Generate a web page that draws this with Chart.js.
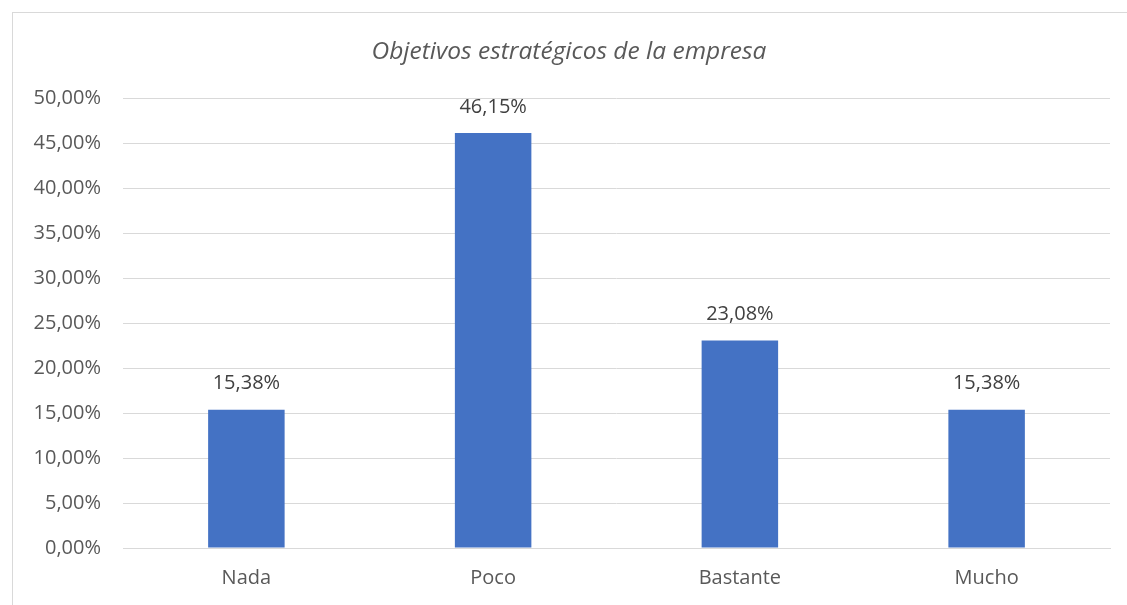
<!DOCTYPE html>
<html lang="es">
<head>
<meta charset="utf-8">
<title>Objetivos estratégicos de la empresa</title>
<script src="https://cdn.jsdelivr.net/npm/chart.js@4"></script>
<style>
    html, body { margin: 0; padding: 0; background: #fff; overflow: hidden; }
    #wrap { position: relative; width: 1127px; height: 605px; }
    #frame {
        position: absolute; left: 12px; top: 12px;
        width: 1130px; height: 600px;
        border: 1px solid #d9d9d9;
        pointer-events: none;
    }
    canvas { position: absolute; left: 0; top: 0; }
</style>
</head>
<body>
<div id="wrap">
    <canvas id="objChart" width="1127" height="605"></canvas>
    <div id="frame"></div>
</div>
<script>
// Chart data
const categories = ['Nada', 'Poco', 'Bastante', 'Mucho'];
const percentages = [15.38, 46.15, 23.08, 15.38];
const yTicks = [0, 5, 10, 15, 20, 25, 30, 35, 40, 45, 50];

const FONT = '"Open Sans", "Noto Sans", sans-serif';

function formatPct(v) {
    return v.toFixed(2).replace('.', ',') + '%';
}

// Value labels above each bar
const barLabels = {
    id: 'barLabels',
    afterDatasetsDraw(chart) {
        const ctx = chart.ctx;
        const meta = chart.getDatasetMeta(0);
        ctx.save();
        ctx.font = '20px ' + FONT;
        ctx.fillStyle = '#404040';
        ctx.textAlign = 'center';
        ctx.textBaseline = 'middle';
        meta.data.forEach((bar, i) => {
            ctx.fillText(formatPct(percentages[i]), bar.x, bar.y - 26);
        });
        ctx.restore();
    }
};

new Chart(document.getElementById('objChart'), {
    type: 'bar',
    data: {
        labels: categories,
        datasets: [{
            data: percentages,
            backgroundColor: '#4472C4',
            borderWidth: 0,
            barPercentage: 0.62,
            categoryPercentage: 0.5
        }]
    },
    options: {
        responsive: false,
        animation: false,
        // left padding nudges the title towards the middle of the frame
        layout: { padding: { left: 28, right: 17, top: 0, bottom: 0 } },
        plugins: {
            legend: { display: false },
            tooltip: { enabled: false },
            title: {
                display: true,
                text: 'Objetivos estratégicos de la empresa',
                color: '#595959',
                font: { family: FONT, size: 24.5, style: 'italic', weight: 'normal' },
                padding: { top: 37, bottom: 32 }
            }
        },
        scales: {
            y: {
                min: 0,
                max: 50,
                afterBuildTicks(scale) {
                    scale.ticks = yTicks.map(v => ({ value: v }));
                },
                afterFit(scale) { scale.width = 95; },
                grid: { color: '#d9d9d9', lineWidth: 1, drawTicks: false },
                border: { display: false },
                ticks: {
                    padding: 22,
                    color: '#595959',
                    font: { family: FONT, size: 20 },
                    callback: v => formatPct(v)
                }
            },
            x: {
                afterFit(scale) { scale.height = 57; },
                grid: { display: false, drawTicks: false },
                border: { display: true, color: '#d9d9d9' },
                ticks: {
                    padding: 18,
                    color: '#595959',
                    font: { family: FONT, size: 20 }
                }
            }
        }
    },
    plugins: [barLabels]
});
</script>
</body>
</html>
